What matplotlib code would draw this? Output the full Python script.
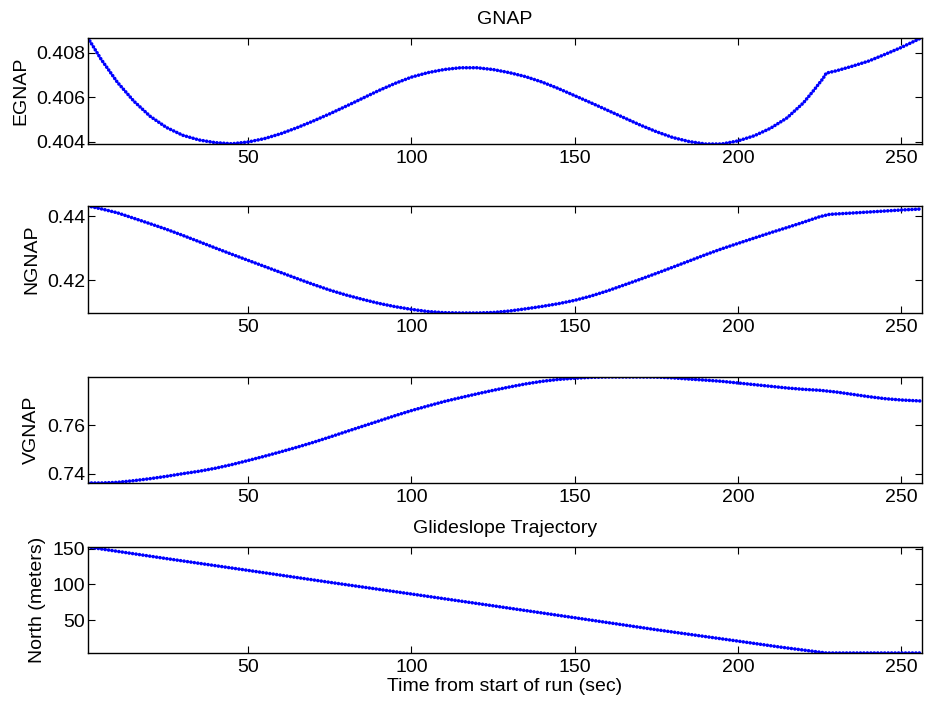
import numpy as np
from matplotlib import pyplot as plt

plt.rcParams['font.family'] = ['Liberation Sans', 'DejaVu Sans']
plt.rcParams['font.size'] = 14

# time samples (sec)
t_e = [1, 5, 10, 15, 20, 25, 30, 35, 40, 45, 50, 55, 60, 65, 70, 75, 80, 85, 90, 95,
       100, 105, 110, 115, 120, 125, 130, 135, 140, 145, 150, 155, 160, 165, 170, 175,
       180, 185, 190, 195, 200, 205, 210, 215, 220, 223, 226, 227, 230, 235, 240, 245,
       250, 256]
egnap = [0.40865, 0.40770, 0.40667, 0.40583, 0.40515, 0.40465, 0.40430, 0.40409,
         0.40397, 0.40392, 0.40400, 0.40415, 0.40437, 0.40464, 0.40494, 0.40526,
         0.40560, 0.40595, 0.40630, 0.40662, 0.40690, 0.40710, 0.40724, 0.40732,
         0.40732, 0.40724, 0.40710, 0.40692, 0.40668, 0.40639, 0.40607, 0.40575,
         0.40542, 0.40509, 0.40476, 0.40446, 0.40420, 0.40402, 0.40391, 0.40391,
         0.40405, 0.40428, 0.40462, 0.40508, 0.40575, 0.40628, 0.40684, 0.40708,
         0.40718, 0.40739, 0.40762, 0.40792, 0.40823, 0.40865]

t_n = [1, 5, 10, 15, 20, 25, 30, 35, 40, 45, 50, 55, 60, 65, 70, 75, 80, 85, 90, 95,
       100, 105, 110, 115, 120, 125, 130, 135, 140, 145, 150, 155, 160, 165, 170, 175,
       180, 185, 190, 195, 200, 205, 210, 215, 220, 225, 228, 235, 240, 245, 250, 256]
ngnap = [0.44313, 0.44225, 0.44100, 0.43930, 0.43760, 0.43585, 0.43395, 0.43198,
         0.43000, 0.42805, 0.42615, 0.42425, 0.42235, 0.42045, 0.41860, 0.41685,
         0.41531, 0.41396, 0.41271, 0.41167, 0.41083, 0.41015, 0.40979, 0.40969,
         0.40969, 0.40985, 0.41031, 0.41100, 0.41175, 0.41260, 0.41365, 0.41500,
         0.41660, 0.41840, 0.42021, 0.42208, 0.42400, 0.42594, 0.42790, 0.42975,
         0.43145, 0.43313, 0.43480, 0.43640, 0.43805, 0.43979, 0.44052, 0.44094,
         0.44125, 0.44156, 0.44188, 0.44219]

t_v = [1, 5, 10, 15, 20, 25, 30, 35, 40, 45, 50, 55, 60, 65, 70, 75, 80, 85, 90, 95,
       100, 105, 110, 115, 120, 125, 130, 135, 140, 145, 150, 155, 160, 165, 170, 175,
       180, 185, 190, 195, 200, 205, 210, 215, 220, 225, 230, 235, 240, 245, 250, 256]
vgnap = [0.73614, 0.73614, 0.73641, 0.73710, 0.73793, 0.73890, 0.74000, 0.74100,
         0.74225, 0.74375, 0.74545, 0.74720, 0.74905, 0.75095, 0.75297, 0.75515,
         0.75738, 0.75959, 0.76179, 0.76400, 0.76610, 0.76800, 0.76985, 0.77145,
         0.77300, 0.77448, 0.77586, 0.77715, 0.77821, 0.77900, 0.77950, 0.77986,
         0.78000, 0.78000, 0.78000, 0.77995, 0.77965, 0.77915, 0.77870, 0.77821,
         0.77752, 0.77683, 0.77614, 0.77545, 0.77490, 0.77450, 0.77379, 0.77283,
         0.77186, 0.77103, 0.77048, 0.77007]

t_g = [1, 25, 50, 75, 100, 125, 150, 175, 200, 213, 227, 240, 256]
north = [152.2, 136.0, 119.5, 102.8, 86.5, 70.0, 53.3, 36.5, 20.6, 12.2, 4.0, 4.0, 4.0]

panels = [
    (t_e, egnap, 'EGNAP', [0.404, 0.406, 0.408], '%.3f', 'GNAP'),
    (t_n, ngnap, 'NGNAP', [0.42, 0.44], '%.2f', None),
    (t_v, vgnap, 'VGNAP', [0.74, 0.76], '%.2f', None),
    (t_g, north, 'North (meters)', [50, 100, 150], '%d', 'Glideslope Trajectory'),
]
# axes rectangles (pixels: top, bottom)
rows = [(38, 144), (206, 313), (377, 483), (547, 653)]

fig = plt.figure(figsize=(9.25, 7.03), dpi=100)
W, H = 925, 703
for (t, y, lab, yt, fmt, title), (top, bot) in zip(panels, rows):
    ax = fig.add_axes([88 / W, 1 - bot / H, 834 / W, (bot - top) / H])
    ax.plot(t, y, color='b', linewidth=2.6, linestyle=(0, (0.01, 0.95)),
            dash_capstyle='round')
    ax.set_xlim(1, 256.3)
    ax.set_ylim(min(y), max(y))
    ax.set_xticks([50, 100, 150, 200, 250])
    ax.set_yticks(yt)
    ax.set_yticklabels([fmt % v for v in yt])
    ax.tick_params(direction='in', top=True, right=True, length=5, width=0.8)
    ax.tick_params(axis='x', pad=4)
    ax.tick_params(axis='y', pad=2)
    ax.set_ylabel(lab, labelpad=5)
    if title:
        ax.set_title(title, fontsize=14, pad=10)
    for s in ax.spines.values():
        s.set_linewidth(1.0)
    if lab.startswith('North'):
        ax.set_xlabel('Time from start of run (sec)', labelpad=2)

plt.savefig('out.png', dpi=100)
